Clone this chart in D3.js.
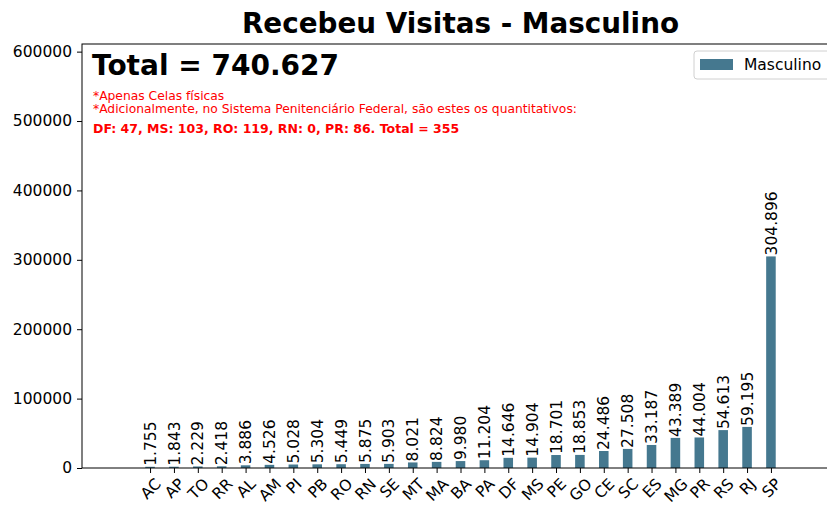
<!DOCTYPE html>
<html>
<head>
<meta charset="utf-8">
<script src="https://cdn.jsdelivr.net/npm/d3@7"></script>
<style>
    body { margin: 0; background: #fff; }
    svg text { font-family: "DejaVu Sans", sans-serif; }
</style>
</head>
<body>
<svg id="chart" width="827" height="505"></svg>
<script>
// --- data ---
const states = ["AC", "AP", "TO", "RR", "AL", "AM", "PI", "PB", "RO", "RN", "SE", "MT", "MA", "BA",
    "PA", "DF", "MS", "PE", "GO", "CE", "SC", "ES", "MG", "PR", "RS", "RJ", "SP"];
const visitas = [1755, 1843, 2229, 2418, 3886, 4526, 5028, 5304, 5449, 5875, 5903, 8021, 8824, 9980,
    11204, 14646, 14904, 18701, 18853, 24486, 27508, 33187, 43389, 44004, 54613, 59195, 304896];
const yTicks = [0, 100000, 200000, 300000, 400000, 500000, 600000];
const notes = [
    "*Apenas Celas físicas",
    "*Adicionalmente, no Sistema Penitenciário Federal, são estes os quantitativos:"
];
const federal = "DF: 47, MS: 103, RO: 119, RN: 0, PR: 86. Total = 355";

const fmt = (v) => d3.format(",")(v).replace(/,/g, ".");

const svg = d3.select("#chart");
const plot = { left: 82, right: 839, top: 44, bottom: 468 };
const barColor = "#45788f";
const fs = 15.5; // base font size (10pt)

// linear x in category units, like matplotlib bar positions
const x = d3.scaleLinear().domain([-2.85, states.length - 1 + 2.85]).range([plot.left, plot.right]);
const y = d3.scaleLinear().domain([0, 611000]).range([plot.bottom, plot.top]);
const barW = x(0.4) - x(0);

// title
svg.append("text")
    .attr("x", (plot.left + plot.right) / 2)
    .attr("y", 33)
    .attr("text-anchor", "middle")
    .style("font-size", "27.8px")
    .style("font-weight", "bold")
    .text("Recebeu Visitas - Masculino");

// bars
svg.append("g")
    .selectAll("rect")
    .data(states)
    .enter()
    .append("rect")
    .attr("x", (d, i) => x(i) - barW / 2)
    .attr("width", barW)
    .attr("y", (d, i) => y(visitas[i]))
    .attr("height", (d, i) => plot.bottom - y(visitas[i]))
    .attr("fill", barColor);

// value labels
svg.append("g")
    .selectAll("text")
    .data(states)
    .enter()
    .append("text")
    .attr("transform", (d, i) => `translate(${x(i)},${y(visitas[i]) - 1}) rotate(-90)`)
    .attr("text-anchor", "start")
    .attr("dy", "0.36em")
    .style("font-size", fs + "px")
    .text((d, i) => fmt(visitas[i]));

// y axis
const yAxis = svg.append("g")
    .attr("transform", `translate(${plot.left},0)`)
    .call(d3.axisLeft(y).tickValues(yTicks).tickFormat(d3.format("d")).tickSize(5).tickPadding(5));
yAxis.selectAll("text")
    .style("font-size", fs + "px")
    .style("font-family", "DejaVu Sans")
    .attr("fill", "#000");
yAxis.select(".domain").remove();

// x axis
const xAxis = svg.append("g")
    .attr("transform", `translate(0,${plot.bottom})`)
    .call(d3.axisBottom(x).tickValues(d3.range(states.length)).tickFormat((i) => states[i]).tickSize(5));
xAxis.select(".domain").remove();
xAxis.selectAll("text")
    .style("font-size", fs + "px")
    .style("font-family", "DejaVu Sans")
    .attr("fill", "#000")
    .attr("text-anchor", "middle")
    .attr("y", 0)
    .attr("dy", "0.35em")
    .attr("transform", function () {
        // centre the rotated box under the tick, like matplotlib
        const len = this.getComputedTextLength();
        const half = (len + fs * 0.75) * Math.SQRT1_2 / 2;
        return `translate(0,${9 + half}) rotate(-45)`;
    });

// spines
svg.append("rect")
    .attr("x", plot.left)
    .attr("y", plot.top)
    .attr("width", plot.right - plot.left)
    .attr("height", plot.bottom - plot.top)
    .attr("fill", "none")
    .attr("stroke", "#000")
    .attr("stroke-width", 1);

// annotations
svg.append("text")
    .attr("x", 92)
    .attr("y", 75)
    .style("font-size", "28px")
    .style("font-weight", "bold")
    .text("Total = " + fmt(d3.sum(visitas)));

svg.append("g")
    .selectAll("text")
    .data(notes)
    .enter()
    .append("text")
    .attr("x", 93)
    .attr("y", (d, i) => 100 + i * 13)
    .attr("fill", "red")
    .style("font-size", "12.3px")
    .text((d) => d);

svg.append("text")
    .attr("x", 93)
    .attr("y", 133)
    .attr("fill", "red")
    .style("font-size", "12.5px")
    .style("font-weight", "bold")
    .text(federal);

// legend
const legend = svg.append("g").attr("transform", "translate(694,51)");
legend.append("rect")
    .attr("width", 150)
    .attr("height", 28)
    .attr("rx", 3)
    .attr("fill", "#fff")
    .attr("stroke", "#d0d0d0");
legend.append("rect")
    .attr("x", 6)
    .attr("y", 8)
    .attr("width", 33)
    .attr("height", 11)
    .attr("fill", barColor);
legend.append("text")
    .attr("x", 50)
    .attr("y", 19)
    .style("font-size", fs + "px")
    .text("Masculino");
</script>
</body>
</html>
